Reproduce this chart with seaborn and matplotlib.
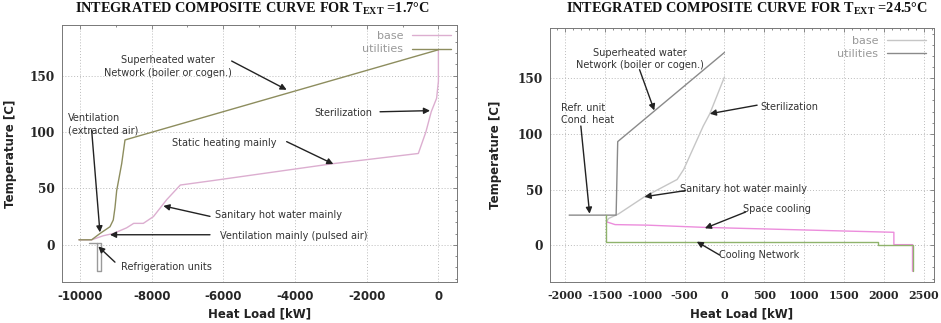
import numpy as np
import matplotlib
matplotlib.use("Agg")
import matplotlib.pyplot as plt
from matplotlib.ticker import MultipleLocator
import seaborn as sns

# -------------------------------
# data
# -------------------------------
# left panel, T_ext = 1.7 C
left_base_x = [-10028, -9674, -9350, -9070, -8700, -8500, -8232, -7950, -7580, -7200, -6280, -2930, -560, -350, -200, -50, 0, 0]
left_base_y = [4.4, 4.4, 8, 10, 15, 19, 19, 25, 40, 53, 57, 72, 81, 100, 118, 130, 145, 173]
left_util_x = [0, -8743, -8835, -8975, -9022, -9070, -9162, -9441, -9674, -10028]
left_util_y = [173, 93, 72, 48, 33, 22, 16, 10, 4.4, 4.4]
left_refr_x = [-9740, -9422, -9422, -9517, -9517]
left_refr_y = [1.4, 1.4, -23.5, -23.5, 1.4]

# right panel, T_ext = 24.5 C
right_base_hot_x = [0, -184, -266, -512, -594, -1004, -1332, -1455, -1480]
right_base_hot_y = [151, 118, 107, 68, 59, 43.5, 28, 24, 21]
right_base_cold_x = [-1480, -1373, -963, -246, 2127, 2127, 2361, 2361]
right_base_cold_y = [21, 18.5, 18, 16, 11.6, 0.5, 0.5, -23.4]
right_util_hot_x = [-1950, -1360, -1340, 0]
right_util_hot_y = [27, 27, 93, 173]
right_util_cold_x = [-1490, -1490, 1930, 1930, 2361, 2361]
right_util_cold_y = [27, 3, 3, 0, 0, -23.4]

left_ticks_x = [-10000, -8000, -6000, -4000, -2000, 0]
right_ticks_x = [-2000, -1500, -1000, -500, 0, 500, 1000, 1500, 2000, 2500]
ticks_y = [0, 50, 100, 150]

# (text, text x, text y, ha, arrow tail x, tail y, tip x, tip y)
left_notes = [
    ("Superheated water\nNetwork (boiler or cogen.)", -7535, 158, "center", -5767, 163, -4233, 137.5),
    ("Sterilization", -2651, 117, "center", -1628, 118, -233, 119),
    ("Ventilation\n(extracted air)", -10326, 107, "left", -9674, 102, -9442, 11),
    ("Static heating mainly", -5981, 90, "center", -4233, 91.5, -2930, 71.6),
    ("Sanitary hot water mainly", -4465, 26.7, "center", -6372, 25.2, -7674, 34.5),
    ("Ventilation mainly (pulsed air)", -4047, 8, "center", -6372, 8.9, -9163, 8.9),
    ("Refrigeration units", -7581, -19.3, "center", -9023, -15.4, -9488, -1.5),
]
right_notes = [
    ("Superheated water\nNetwork (boiler or cogen.)", -1066, 167, "center", -1066, 157.6, -881, 121),
    ("Sterilization", 820, 124, "center", 410, 125.7, -184, 118),
    ("Refr. unit\nCond. heat", -2049, 118, "left", -1803, 107, -1693, 28.3),
    ("Sanitary hot water mainly", 234, 50.2, "center", -492, 49, -1004, 43.5),
    ("Space cooling", 656, 32.6, "center", 266, 29.8, -246, 15.2),
    ("Cooling Network", 430, -8.8, "center", -61, -8.8, -348, 3.2),
]

# -------------------------------
# style
# -------------------------------
sns.set_theme(style="white")
plt.rcParams["font.family"] = ["DejaVu Sans"]
plt.rcParams["axes.unicode_minus"] = False
plt.rcParams["mathtext.fontset"] = "custom"
plt.rcParams["mathtext.rm"] = "Liberation Serif:bold"
plt.rcParams["mathtext.bf"] = "Liberation Serif:bold"

fig = plt.figure(figsize=(9.41, 3.23), dpi=100)
ax1 = fig.add_axes([0.0659, 0.127, 0.4198, 0.7957])
ax2 = fig.add_axes([0.5845, 0.127, 0.408, 0.7864])


def draw(ax, x, y, color, label=None, lw=1.0):
    sns.lineplot(x=x, y=y, sort=False, estimator=None, ax=ax, color=color,
                 linewidth=lw, label=label, legend=bool(label))


def frame(ax, xticks, xlim, xminor, xfont, xsize):
    ax.set_xlim(xlim)
    ax.set_ylim(-33, 195)
    ax.set_xticks(xticks)
    ax.set_yticks(ticks_y)
    ax.xaxis.set_minor_locator(MultipleLocator(xminor))
    ax.yaxis.set_minor_locator(MultipleLocator(10))
    ax.tick_params(which="both", direction="in", top=True, right=True,
                   color="#777777", length=3, width=0.6)
    ax.tick_params(which="minor", length=1.5)
    ax.tick_params(axis="x", pad=6)
    ax.tick_params(axis="y", pad=5)
    for lab in ax.get_xticklabels():
        lab.set_fontfamily(xfont)
        lab.set_fontweight("bold")
        lab.set_fontsize(xsize)
    for lab in ax.get_yticklabels():
        lab.set_fontfamily("DejaVu Serif")
        lab.set_fontweight("bold")
        lab.set_fontsize(8.7)
    ax.grid(True, which="major", linestyle=(0, (1, 2)), color="#bbbbbb", linewidth=0.7)
    for sp in ax.spines.values():
        sp.set_color("#777777")
        sp.set_linewidth(0.7)
    ax.set_xlabel("Heat Load [kW]", fontsize=8.5, fontweight="bold", color="#222222")
    ax.set_ylabel("Temperature [C]", fontsize=8.5, fontweight="bold", color="#222222")


def notes(ax, items):
    for txt, tx, ty, ha, ax0, ay0, ax1_, ay1 in items:
        ax.text(tx, ty, txt, ha=ha, va="center", fontsize=7, color="#333333",
                linespacing=1.3)
        ax.annotate("", xy=(ax1_, ay1), xytext=(ax0, ay0),
                    arrowprops=dict(arrowstyle="-|>", color="#222222", lw=1.0,
                                    mutation_scale=9, shrinkA=0, shrinkB=0))


# left panel
draw(ax1, left_base_x, left_base_y, "#dcaed0", "base")
draw(ax1, left_util_x, left_util_y, "#8d8d5e", "utilities")
draw(ax1, left_refr_x, left_refr_y, "#9a9a9a")
frame(ax1, left_ticks_x, (-10500, 520), 1000, "DejaVu Sans", 8.5)
notes(ax1, left_notes)
ax1.legend(loc="upper right", frameon=False, markerfirst=False, fontsize=8,
           labelcolor="#999999", handlelength=3.5, borderaxespad=0.15, labelspacing=0.3)
ax1.yaxis.set_label_coords(-0.115, 0.5)
ax1.xaxis.set_label_coords(0.5, -0.10)

# right panel
draw(ax2, right_base_hot_x, right_base_hot_y, "#c6c6c6", "base")
draw(ax2, right_util_hot_x, right_util_hot_y, "#8a8a8a", "utilities")
draw(ax2, right_base_cold_x, right_base_cold_y, "#ec8ddc")
draw(ax2, right_util_cold_x, right_util_cold_y, "#8fb36c")
frame(ax2, right_ticks_x, (-2190, 2630), 100, "DejaVu Serif", 8)
notes(ax2, right_notes)
ax2.legend(loc="upper right", frameon=False, markerfirst=False, fontsize=8,
           labelcolor="#999999", handlelength=3.5, borderaxespad=0.3, labelspacing=0.3)
ax2.yaxis.set_label_coords(-0.125, 0.5)
ax2.xaxis.set_label_coords(0.5, -0.10)

fig.text(0.268, 0.972, r"INTEGRATED COMPOSITE CURVE FOR T$_{\mathrm{EXT}}$ =1.7°C",
         ha="center", va="center", fontsize=10.3, fontweight="bold",
         fontfamily="Liberation Serif", color="#111111")
fig.text(0.794, 0.972, r"INTEGRATED COMPOSITE CURVE FOR T$_{\mathrm{EXT}}$ =24.5°C",
         ha="center", va="center", fontsize=10.3, fontweight="bold",
         fontfamily="Liberation Serif", color="#111111")

fig.savefig("out.png", dpi=100)
